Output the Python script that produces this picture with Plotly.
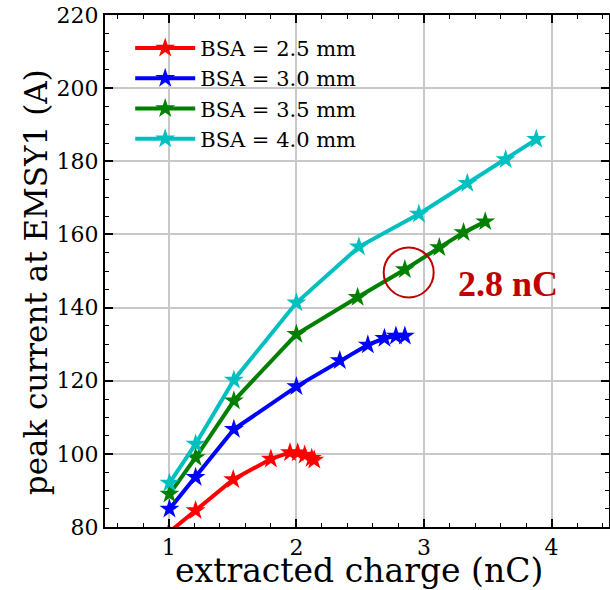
import plotly.graph_objects as go

# ---- data ----
names = ["BSA = 2.5 mm", "BSA = 3.0 mm", "BSA = 3.5 mm", "BSA = 4.0 mm"]
colors = ["#ff0000", "#0000ff", "#008000", "#00bfbf"]

q_25 = [1.00, 1.21, 1.505, 1.80, 1.95, 2.01, 2.065, 2.12, 2.14]
i_25 = [78.5, 84.5, 93.0, 98.6, 100.4, 100.3, 99.7, 98.8, 98.3]

q_30 = [1.005, 1.21, 1.51, 2.00, 2.34, 2.56, 2.69, 2.78, 2.85]
i_30 = [84.9, 93.6, 106.7, 118.4, 125.5, 129.8, 131.6, 132.2, 132.2]

q_35 = [1.005, 1.21, 1.51, 2.00, 2.48, 2.85, 3.12, 3.31, 3.48]
i_35 = [89.0, 99.0, 114.5, 132.7, 142.8, 150.4, 156.4, 160.5, 163.5]

q_40 = [1.005, 1.21, 1.51, 2.00, 2.49, 2.96, 3.34, 3.64, 3.88]
i_40 = [92.0, 102.7, 120.2, 141.3, 156.6, 165.6, 174.0, 180.5, 186.0]

xs = [q_25, q_30, q_35, q_40]
ys = [i_25, i_30, i_35, i_40]

x_ticks = [1, 2, 3, 4]
y_ticks = [80, 100, 120, 140, 160, 180, 200, 220]

x_title = "extracted charge (nC)"
y_title = "peak current at EMSY1 (A)"

# annotation (highlighted point)
mark_q, mark_i = 2.88, 149.6
mark_text = "2.8 nC"
text_q, text_i = 3.25, 146.5
ann_color = "#c00000"

fig = go.Figure()
for n, c, x, y in zip(names, colors, xs, ys):
    fig.add_trace(go.Scatter(
        x=x, y=y, name=n, mode="lines+markers",
        line=dict(color=c, width=4),
        marker=dict(symbol="star", size=15, color=c, line=dict(width=0)),
    ))

axis_common = dict(
    showline=True, linecolor="black", linewidth=2, mirror="ticks",
    ticks="inside", ticklen=8, tickwidth=1.5, tickcolor="black",
    showgrid=True, gridcolor="#c8c8c8", gridwidth=2, zeroline=False,
    tickfont=dict(family="DejaVu Serif", size=22, color="black"),
    automargin=False, ticklabeloverflow="allow",
)

fig.update_xaxes(
    range=[0.5, 4.45], tickvals=x_ticks,
    minor=dict(dtick=0.2, tick0=0, ticks="inside", ticklen=4, tickwidth=1.2,
               tickcolor="black", showgrid=False),
    **axis_common,
)
fig.update_yaxes(
    range=[80, 220], tickvals=y_ticks,
    minor=dict(dtick=5, tick0=0, ticks="inside", ticklen=4, tickwidth=1.2,
               tickcolor="black", showgrid=False),
    **axis_common,
)

# axis titles as annotations for precise placement
fig.add_annotation(
    x=0.504, y=-0.084, xref="paper", yref="paper", text=x_title,
    showarrow=False, xanchor="center", yanchor="middle",
    font=dict(family="DejaVu Serif", size=33, color="black"),
)
fig.add_annotation(
    x=-0.137, y=0.478, xref="paper", yref="paper", text=y_title,
    showarrow=False, xanchor="center", yanchor="middle", textangle=-90,
    font=dict(family="DejaVu Serif", size=31, color="black"),
)

fig.add_shape(
    type="circle", xref="x", yref="y", xsizemode="pixel", ysizemode="pixel",
    xanchor=mark_q, yanchor=mark_i, x0=-25, x1=25, y0=-25, y1=25,
    line=dict(color=ann_color, width=2),
)
fig.add_annotation(
    x=text_q, y=text_i, xref="x", yref="y", text="<b>" + mark_text + "</b>",
    showarrow=False, xanchor="left", yanchor="middle",
    font=dict(family="Liberation Serif", size=36, color=ann_color),
)

fig.update_layout(
    width=610, height=590,
    margin=dict(l=105, r=1, t=15, b=63),
    paper_bgcolor="white", plot_bgcolor="white",
    showlegend=True,
    legend=dict(
        x=0.05, y=0.975, xanchor="left", yanchor="top",
        bgcolor="rgba(0,0,0,0)", borderwidth=0,
        font=dict(family="DejaVu Serif", size=21, color="black"),
        itemwidth=60, tracegroupgap=0,
    ),
)

fig.write_html("out.html", config={"displayModeBar": False},
               post_script="document.body.style.margin='0px';")
